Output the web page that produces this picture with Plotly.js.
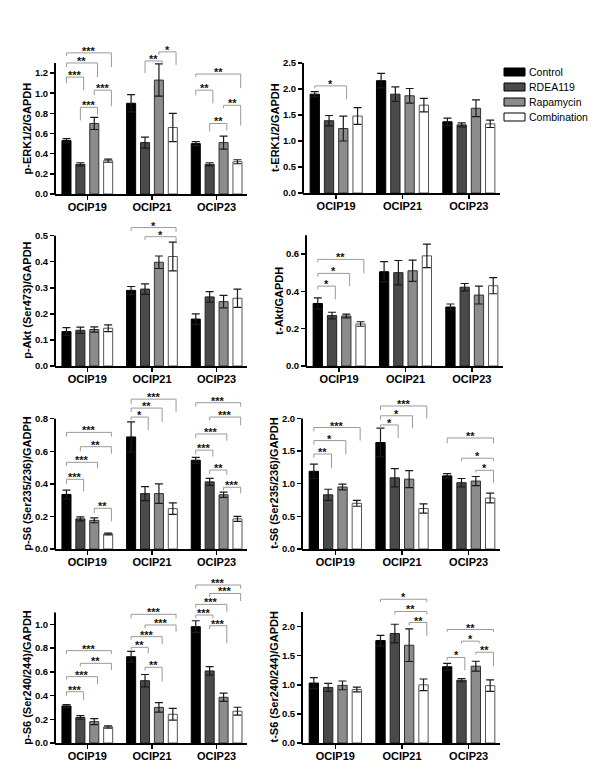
<!DOCTYPE html>
<html><head><meta charset="utf-8">
<script src="https://cdn.plot.ly/plotly-3.0.1.min.js"></script>
<style>html,body{margin:0;padding:0;background:#fff}#chart{width:600px;height:777px}</style>
</head><body><div id="chart"></div>
<script>
// ---------- DATA ----------
const groups = ['OCIP19', 'OCIP21', 'OCIP23'];
const seriesNames = ['Control', 'RDEA119', 'Rapamycin', 'Combination'];

// rows: Control, RDEA119, Rapamycin, Combination ; columns: OCIP19, OCIP21, OCIP23
const pERK_mean = [[0.53, 0.90, 0.50], [0.295, 0.51, 0.295], [0.70, 1.13, 0.51], [0.33, 0.66, 0.32]];
const pERK_err  = [[0.02, 0.085, 0.02], [0.015, 0.055, 0.015], [0.06, 0.16, 0.065], [0.015, 0.14, 0.02]];
// [group, seriesA, seriesB, bracketTop, leftLegEnd, rightLegEnd, label]
const pERK_sig = [
  [0,0,3,1.40,1.37,1.26,'***'], [0,0,2,1.30,1.26,1.16,'**'], [0,0,1,1.16,1.10,1.03,'***'],
  [0,1,2,0.86,0.73,0.79,'***'], [0,2,3,1.03,0.98,0.87,'***'],
  [1,1,2,1.32,1.20,1.28,'**'], [1,2,3,1.41,1.38,1.28,'*'],
  [2,0,3,1.19,1.16,1.05,'**'], [2,0,1,1.03,0.98,0.90,'**'], [2,2,3,0.88,0.85,0.68,'**'], [2,1,2,0.70,0.62,0.63,'**']
];

const tERK_mean = [[1.90, 2.16, 1.37], [1.39, 1.90, 1.31], [1.24, 1.87, 1.63], [1.48, 1.69, 1.33]];
const tERK_err  = [[0.05, 0.14, 0.07], [0.10, 0.14, 0.04], [0.24, 0.14, 0.16], [0.16, 0.13, 0.07]];
const tERK_sig = [[0,0,2,2.06,2.01,1.80,'*']];

const pAkt_mean = [[0.132, 0.29, 0.18], [0.137, 0.295, 0.265], [0.14, 0.398, 0.247], [0.145, 0.42, 0.26]];
const pAkt_err  = [[0.015, 0.015, 0.02], [0.012, 0.02, 0.02], [0.01, 0.024, 0.024], [0.013, 0.055, 0.035]];
const pAkt_sig = [[1,0,3,0.531,0.518,0.515,'*'], [1,1,3,0.496,0.483,0.478,'*']];

const tAkt_mean = [[0.335, 0.505, 0.316], [0.27, 0.50, 0.422], [0.268, 0.51, 0.38], [0.225, 0.59, 0.43]];
const tAkt_err  = [[0.03, 0.054, 0.016], [0.018, 0.065, 0.02], [0.01, 0.057, 0.048], [0.012, 0.063, 0.043]];
const tAkt_sig = [[0,0,3,0.571,0.556,0.496,'**'], [0,0,2,0.496,0.48,0.428,'*'], [0,0,1,0.428,0.41,0.357,'*']];

const pS6a_mean = [[0.335, 0.688, 0.545], [0.185, 0.34, 0.412], [0.176, 0.34, 0.333], [0.092, 0.248, 0.185]];
const pS6a_err  = [[0.027, 0.092, 0.018], [0.012, 0.043, 0.022], [0.015, 0.06, 0.016], [0.005, 0.035, 0.015]];
const pS6a_sig = [
  [0,0,3,0.716,0.69,0.69,'***'], [0,1,3,0.628,0.60,0.585,'**'], [0,0,2,0.532,0.51,0.495,'***'],
  [0,0,1,0.428,0.40,0.354,'***'], [0,2,3,0.25,0.22,0.17,'**'],
  [1,0,3,0.92,0.89,0.84,'***'], [1,0,2,0.865,0.84,0.78,'**'], [1,0,1,0.81,0.79,0.73,'*'],
  [2,0,3,0.898,0.874,0.874,'***'], [2,1,3,0.81,0.79,0.76,'***'], [2,0,2,0.706,0.68,0.665,'***'],
  [2,0,1,0.607,0.58,0.567,'***'], [2,1,2,0.485,0.46,0.455,'**'], [2,2,3,0.379,0.36,0.342,'***']
];

const tS6a_mean = [[1.19, 1.63, 1.12], [0.83, 1.09, 1.015], [0.95, 1.07, 1.04], [0.70, 0.62, 0.78]];
const tS6a_err  = [[0.11, 0.22, 0.035], [0.085, 0.14, 0.065], [0.045, 0.13, 0.07], [0.045, 0.07, 0.075]];
const tS6a_sig = [
  [0,0,3,1.86,1.80,1.66,'***'], [0,0,2,1.66,1.60,1.45,'*'], [0,0,1,1.455,1.40,1.235,'**'],
  [1,0,3,2.19,2.13,2.0,'***'], [1,0,2,2.04,1.98,1.85,'*'], [1,0,1,1.90,1.84,1.70,'*'],
  [2,0,3,1.70,1.62,1.62,'**'], [2,1,3,1.39,1.35,1.35,'*'], [2,2,3,1.205,1.17,1.015,'*']
];

const pS6b_mean = [[0.312, 0.727, 0.98], [0.215, 0.525, 0.607], [0.18, 0.30, 0.385], [0.135, 0.242, 0.268]];
const pS6b_err  = [[0.012, 0.045, 0.05], [0.015, 0.052, 0.036], [0.025, 0.04, 0.035], [0.01, 0.05, 0.033]];
const pS6b_sig = [
  [0,0,3,0.778,0.75,0.75,'***'], [0,1,3,0.671,0.645,0.615,'**'], [0,0,2,0.559,0.535,0.497,'***'],
  [0,0,1,0.432,0.40,0.362,'***'],
  [1,0,3,1.084,1.05,1.05,'***'], [1,1,3,0.994,0.965,0.938,'***'], [1,0,2,0.896,0.87,0.834,'***'],
  [1,0,1,0.806,0.78,0.756,'**'], [1,1,2,0.638,0.61,0.517,'**'],
  [2,0,3,1.331,1.30,1.30,'***'], [2,1,3,1.26,1.23,1.196,'***'], [2,0,2,1.168,1.14,1.106,'***'],
  [2,0,1,1.078,1.05,1.05,'***'], [2,1,2,0.988,0.96,0.84,'***']
];

const tS6b_mean = [[1.03, 1.76, 1.31], [0.955, 1.88, 1.08], [0.99, 1.68, 1.32], [0.92, 1.0, 0.985]];
const tS6b_err  = [[0.095, 0.09, 0.057], [0.07, 0.16, 0.028], [0.075, 0.28, 0.085], [0.04, 0.1, 0.098]];
const tS6b_sig = [
  [1,0,3,2.47,2.42,2.42,'*'], [1,1,3,2.26,2.21,2.21,'**'], [1,2,3,2.07,2.02,1.84,'**'],
  [2,0,3,1.95,1.91,1.91,'**'], [2,1,2,1.75,1.71,1.71,'*'], [2,0,1,1.47,1.42,1.25,'*'], [2,2,3,1.56,1.52,1.32,'**']
];

const pERK_ticks = [0, 0.2, 0.4, 0.6, 0.8, 1.0, 1.2];
const tERK_ticks = [0, 0.5, 1.0, 1.5, 2.0, 2.5];
const pAkt_ticks = [0, 0.1, 0.2, 0.3, 0.4, 0.5];
const tAkt_ticks = [0, 0.2, 0.4, 0.6];
const pS6a_ticks = [0, 0.2, 0.4, 0.6, 0.8];
const tS6a_ticks = [0, 0.5, 1.0, 1.5, 2.0];
const pS6b_ticks = [0, 0.2, 0.4, 0.6, 0.8, 1.0];
const tS6b_ticks = [0, 0.5, 1.0, 1.5, 2.0];

// ---------- LAYOUT / STYLE ----------
const W = 600, H = 777;
const F = 'Liberation Sans, Arial, Helvetica, sans-serif';
const BAR_STEP = 0.215, BAR_W = 0.14;
const fillColors = ['#000000', '#4a4a4a', '#8c8c8c', '#ffffff'];
const lineColors = ['#000000', '#222222', '#333333', '#555555'];

// geometry in px: x0/x1 plot edges, y0 = pixel of value 0, k = px per unit, top = plot top pixel
const panels = [
  {title:'p-ERK1/2/GAPDH', mean:pERK_mean, err:pERK_err, sig:pERK_sig, ticks:pERK_ticks, axisTop:1.3, tx:27, g:{x0:55,x1:247,y0:194,k:100.8,top:38}},
  {title:'t-ERK1/2/GAPDH', mean:tERK_mean, err:tERK_err, sig:tERK_sig, ticks:tERK_ticks, axisTop:2.5, tx:275, g:{x0:303,x1:500,y0:193,k:52,top:38}},
  {title:'p-Akt (Ser473)/GAPDH', mean:pAkt_mean, err:pAkt_err, sig:pAkt_sig, ticks:pAkt_ticks, axisTop:0.5, tx:27, g:{x0:55,x1:247,y0:366,k:260.7,top:212}},
  {title:'t-Akt/GAPDH', mean:tAkt_mean, err:tAkt_err, sig:tAkt_sig, ticks:tAkt_ticks, axisTop:0.7, tx:279, g:{x0:306,x1:503,y0:366,k:186.7,top:212}},
  {title:'p-S6 (Ser235/236)/GADPH', mean:pS6a_mean, err:pS6a_err, sig:pS6a_sig, ticks:pS6a_ticks, axisTop:0.8, tx:27, g:{x0:55,x1:247,y0:549,k:162.9,top:383}},
  {title:'t-S6 (Ser235/236)/GAPDH', mean:tS6a_mean, err:tS6a_err, sig:tS6a_sig, ticks:tS6a_ticks, axisTop:2.0, tx:274, g:{x0:302,x1:500,y0:549,k:65.3,top:383}},
  {title:'p-S6 (Ser240/244)/GAPDH', mean:pS6b_mean, err:pS6b_err, sig:pS6b_sig, ticks:pS6b_ticks, axisTop:1.1, tx:27, g:{x0:55,x1:247,y0:743,k:118.7,top:573}},
  {title:'t-S6 (Ser240/244)/GAPDH', mean:tS6b_mean, err:tS6b_err, sig:tS6b_sig, ticks:tS6b_ticks, axisTop:2.25, tx:274, g:{x0:302,x1:500,y0:743,k:58.2,top:573}}
];

const data = [], shapes = [], annotations = [];
const layout = {
  width: W, height: H, margin: {l:0, r:0, t:0, b:0},
  paper_bgcolor: '#fff', plot_bgcolor: 'rgba(0,0,0,0)',
  showlegend: false, font: {family: F, color: '#000'}
};

const barX = (gi, s) => gi + (s - 1.5) * BAR_STEP;

panels.forEach((p, i) => {
  const n = i + 1, suf = n === 1 ? '' : String(n);
  const xa = 'x' + suf, ya = 'y' + suf;
  const g = p.g;
  const ymax = (g.y0 - g.top) / g.k;
  layout['xaxis' + suf] = {
    domain: [g.x0 / W, g.x1 / W], range: [-0.5, 2.47], anchor: ya,
    tickvals: [0, 1, 2], ticktext: groups, ticks: 'outside', ticklen: 4, tickwidth: 1.5, tickcolor: '#000',
    showline: true, linewidth: 2, linecolor: '#000', showgrid: false, zeroline: false, fixedrange: true,
    ticklabelstandoff: -2,
    tickfont: {family: F, size: 11, color: '#000', weight: 'bold'}
  };
  layout['yaxis' + suf] = {
    domain: [1 - g.y0 / H, 1 - g.top / H], range: [0, ymax], anchor: xa,
    tickvals: p.ticks, tickformat: '.1f', ticks: 'outside', ticklen: 4, tickwidth: 1.5, tickcolor: '#000',
    showline: false, showgrid: false, zeroline: false, fixedrange: true,
    tickfont: {family: F, size: 9.5, color: '#000', weight: 'bold'}
  };
  // y axis line (ends at the last tick like the original)
  shapes.push({type: 'line', xref: 'paper', yref: 'paper',
    x0: g.x0 / W, x1: g.x0 / W, y0: 1 - (g.y0 + 1) / H, y1: 1 - (g.y0 - p.axisTop * g.k) / H,
    line: {color: '#000', width: 2}});
  // y title
  annotations.push({xref: 'paper', yref: 'paper', x: p.tx / W, y: 1 - (g.y0 - p.axisTop * g.k / 2) / H,
    text: p.title, textangle: -90, showarrow: false, xanchor: 'center', yanchor: 'middle', borderpad: 0,
    font: {family: F, size: 11, color: '#000', weight: 'bold'}});

  seriesNames.forEach((name, s) => {
    data.push({
      type: 'bar', name: name, xaxis: xa, yaxis: ya,
      x: groups.map((_, gi) => barX(gi, s)), y: p.mean[s], width: BAR_W,
      marker: {color: fillColors[s], line: {color: lineColors[s], width: 1}},
      error_y: {type: 'data', array: p.err[s], visible: true, color: '#1a1a1a', thickness: 1.2, width: 4},
      hoverinfo: 'skip'
    });
  });

  p.sig.forEach(b => {
    const [gi, s1, s2, yt, yl, yr, lab] = b;
    const x1 = barX(gi, s1), x2 = barX(gi, s2) + 0.05;
    shapes.push({type: 'path', xref: xa, yref: ya,
      path: `M${x1},${yl} L${x1},${yt} L${x2},${yt} L${x2},${yr}`,
      line: {color: '#9a9a9a', width: 1}});
    annotations.push({xref: xa, yref: ya, x: (x1 + x2) / 2, y: yt, text: lab, showarrow: false,
      xanchor: 'center', yanchor: 'bottom', yshift: -5, borderpad: 0,
      font: {family: F, size: 11, color: '#111', weight: 'bold'}});
  });
});

// legend
const legendRows = [72, 87, 102, 117];
seriesNames.forEach((name, s) => {
  const r = legendRows[s];
  shapes.push({type: 'rect', xref: 'paper', yref: 'paper',
    x0: 504 / W, x1: 525 / W, y0: 1 - (r + 4) / H, y1: 1 - (r - 4) / H,
    fillcolor: fillColors[s], line: {color: '#000', width: 1}});
  annotations.push({xref: 'paper', yref: 'paper', x: 527 / W, y: 1 - r / H, text: name,
    showarrow: false, xanchor: 'left', yanchor: 'middle',
    font: {family: F, size: 10.5, color: '#000'}});
});

layout.shapes = shapes;
layout.annotations = annotations;
Plotly.newPlot('chart', data, layout, {staticPlot: true, displayModeBar: false});
</script></body></html>
